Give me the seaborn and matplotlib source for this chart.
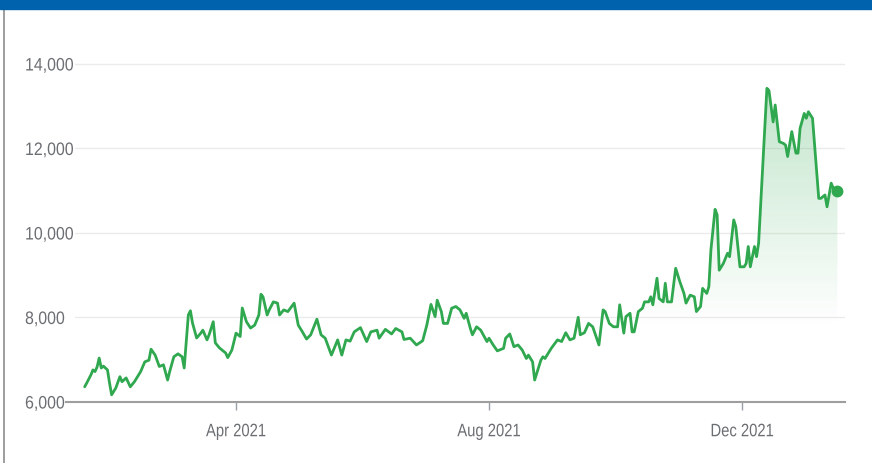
import numpy as np
import pandas as pd
import matplotlib
matplotlib.use("Agg")
import matplotlib.pyplot as plt
import matplotlib.dates as mdates
from matplotlib.colors import to_rgb
from matplotlib.patches import Rectangle
from matplotlib.lines import Line2D
from matplotlib.ticker import FixedLocator, FuncFormatter
from matplotlib.patheffects import AbstractPathEffect
from matplotlib.transforms import Affine2D
import seaborn as sns

# ---- data (days since 2021-01-01, closing value) ----
day_offsets = [17, 18, 20, 21, 22, 23, 24, 25, 26, 28, 29, 30, 32, 34, 35, 37, 39, 41, 44, 46,
               48, 49, 51, 53, 55, 57, 58, 60, 62, 64, 65, 67, 68, 69, 71, 73, 74, 76, 77, 79,
               80, 82, 85, 86, 88, 90, 92, 93, 95, 97, 99, 101, 102, 103, 105, 106, 108, 110, 111, 113,
               115, 118, 120, 122, 124, 126, 129, 131, 133, 136, 139, 141, 143, 145, 147, 150, 153, 155, 158, 159,
               162, 165, 167, 170, 171, 174, 177, 180, 182, 184, 186, 187, 189, 190, 192, 194, 196, 198, 200, 201,
               203, 204, 206, 208, 211, 212, 214, 216, 219, 220, 222, 224, 226, 228, 230, 231, 233, 234, 237, 238,
               239, 242, 245, 247, 249, 251, 253, 255, 256, 258, 260, 262, 265, 267, 268, 270, 272, 274, 275, 277,
               278, 280, 281, 282, 284, 286, 287, 289, 290, 291, 293, 294, 296, 297, 298, 300, 302, 304, 306, 307,
               309, 311, 312, 314, 315, 317, 318, 319, 321, 322, 323, 325, 327, 328, 330, 331, 333, 335, 336, 337,
               338, 340, 341, 342, 346, 347, 349, 350, 352, 354, 355, 356, 358, 360, 361, 362, 364, 365, 366, 368,
               371, 372, 374, 375, 377, 378, 380]
values = [6360, 6450, 6640, 6760, 6720, 6830, 7040, 6805, 6850, 6760, 6450, 6170, 6330, 6600, 6480, 6570, 6360, 6480, 6720, 6950,
          6990, 7250, 7110, 6840, 6880, 6520, 6720, 7070, 7140, 7070, 6805, 8060, 8160, 7870, 7515, 7630, 7700, 7470, 7590, 7900,
          7400, 7280, 7160, 7050, 7230, 7630, 7550, 8225, 7900, 7750, 7820, 8060, 8550, 8490, 8060, 8180, 8370, 8340, 8060, 8180,
          8140, 8340, 7820, 7660, 7490, 7590, 7960, 7590, 7510, 7110, 7470, 7110, 7470, 7440, 7660, 7760, 7430, 7660, 7700, 7510,
          7720, 7610, 7740, 7660, 7480, 7510, 7350, 7450, 7820, 8310, 8020, 8410, 8140, 7860, 7860, 8220, 8260, 8180, 7980, 8100,
          7740, 7590, 7780, 7700, 7430, 7510, 7350, 7210, 7270, 7510, 7610, 7310, 7350, 7230, 7030, 7110, 6950, 6520, 6990, 7070,
          7030, 7270, 7470, 7430, 7640, 7470, 7510, 8005, 7590, 7640, 7860, 7780, 7350, 8180, 8140, 7860, 7780, 7780, 8300, 7630,
          8020, 8100, 7660, 7660, 8140, 8220, 8370, 8370, 8490, 8300, 8930, 8450, 8370, 8810, 8370, 8370, 9165, 8850, 8570, 8340,
          8530, 8490, 8140, 8260, 8690, 8570, 8730, 9600, 10560, 10430, 9120, 9280, 9520, 9440, 10310, 10150, 9200, 9200, 9280, 9680,
          9200, 9680, 9440, 9760, 13425, 13370, 12630, 13030, 12160, 12120, 12080, 11810, 12400, 11890, 11890, 12480, 12830, 12715, 12870, 12715,
          10820, 10820, 10900, 10620, 11180, 11060, 11000]
y_ticks = [6000, 8000, 10000, 12000, 14000]
x_tick_dates = ["2021-04-01", "2021-08-01", "2021-12-01"]
x_tick_labels = ["Apr 2021", "Aug 2021", "Dec 2021"]

dates = pd.Timestamp("2021-01-01") + pd.to_timedelta(day_offsets, unit="D")
df = pd.DataFrame({"date": dates, "value": values})

GREEN = "#2fa84f"
LABEL = "#6b6e72"


class Squeeze(AbstractPathEffect):
    """Draw text horizontally condensed (the reference uses a narrow face)."""

    def __init__(self, sx, centered=False):
        super().__init__()
        self.sx = sx
        self.centered = centered

    def draw_path(self, renderer, gc, tpath, affine, rgbFace=None):
        t = Affine2D().scale(self.sx, 1.0)
        if self.centered and len(tpath.vertices):
            ext = tpath.get_extents()
            t = t.translate((1 - self.sx) * (ext.x0 + ext.x1) / 2, 0)
        renderer.draw_path(gc, tpath, t + affine, rgbFace)


sns.set_theme(style="white")
plt.rcParams["font.family"] = ["Liberation Sans", "DejaVu Sans"]

W, H = 872, 463
fig = plt.figure(figsize=(W / 100, H / 100), dpi=100)
fig.patch.set_facecolor("white")
ax = fig.add_axes([66 / W, (H - 402) / H, (845 - 66) / W, (402 - 43) / H])

sns.lineplot(data=df, x="date", y="value", ax=ax, color=GREEN, lw=2.0, zorder=3)

# gradient fill under the line
x_num = mdates.date2num(df["date"])
poly = ax.fill_between(x_num, df["value"], 6000, facecolor="none", edgecolor="none")
ys = np.linspace(6000, 13500, 300)
alpha = np.clip((ys - 7800) / (13500 - 7800), 0, 1) * 0.3
grad = np.zeros((300, 1, 4))
grad[..., :3] = to_rgb(GREEN)
grad[:, 0, 3] = alpha
im = ax.imshow(grad, extent=[x_num[0], x_num[-1], 6000, 13500], origin="lower",
               aspect="auto", zorder=2, interpolation="bilinear")
im.set_clip_path(poly.get_paths()[0], transform=ax.transData)

ax.plot(x_num[-1], values[-1], "o", ms=7.5, color=GREEN, zorder=4)

base = mdates.date2num(pd.Timestamp("2021-01-01"))
ax.set_xlim(base + 8, base + 383.66)
ax.set_ylim(6000, 14497)

for v in y_ticks[1:]:
    ax.axhline(v, xmin=0.012, color="#ebebeb", lw=1, zorder=0)

ax.xaxis.set_major_locator(FixedLocator(mdates.date2num(pd.to_datetime(x_tick_dates))))
ax.set_xticklabels(x_tick_labels)
ax.yaxis.set_major_locator(FixedLocator(y_ticks))
ax.yaxis.set_major_formatter(FuncFormatter(lambda v, p: f"{int(v):,}"))
ax.set_xlabel("")
ax.set_ylabel("")

ax.tick_params(axis="x", length=5.8, width=1.0, color="#9aa0a6", pad=9.5,
               labelsize=13, labelcolor=LABEL, bottom=True)
ax.tick_params(axis="y", length=0, pad=29.5, labelsize=13, labelcolor=LABEL, left=True)
for lbl in ax.get_yticklabels():
    lbl.set_ha("left")
    lbl.set_path_effects([Squeeze(0.88)])
for lbl in ax.get_xticklabels():
    lbl.set_path_effects([Squeeze(0.82, centered=True)])

for s in ["top", "right", "left"]:
    ax.spines[s].set_visible(False)
ax.spines["bottom"].set_color("#9e9e9e")
ax.spines["bottom"].set_linewidth(1.5)

# page decorations
fig.patches.append(Rectangle((0, 1 - 9 / H), 1, 9 / H, transform=fig.transFigure,
                             color="#0061ad", zorder=10))
fig.lines.append(Line2D([3.5 / W, 3.5 / W], [0, 1 - 9 / H], transform=fig.transFigure,
                        color="#8c8c8c", lw=1.2))

fig.savefig("out.png", dpi=100, facecolor="white")
